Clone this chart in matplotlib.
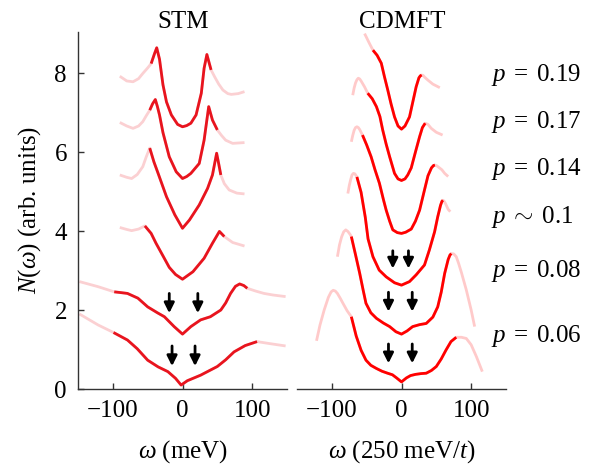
import numpy as np
import matplotlib
matplotlib.use("Agg")
import matplotlib.pyplot as plt

plt.rcParams["font.family"] = ["Liberation Serif", "DejaVu Serif"]
plt.rcParams["mathtext.fontset"] = "custom"
plt.rcParams["mathtext.rm"] = "Liberation Serif"
plt.rcParams["mathtext.it"] = "Liberation Serif:italic"
plt.rcParams["axes.unicode_minus"] = True

# ---------------- STM spectra (offset vertically), omega in meV ----------------
stm_x = [
    [-90, -80, -71, -63, -57, -50, -45, -40, -37, -33, -28, -23, -16, -7, 0, 6, 12, 19.5, 27, 31, 35, 41, 46, 52, 58, 65, 70, 80, 89],
    [-90, -80, -71, -63, -57, -52, -47, -43, -39, -36, -33, -28, -19, -9, 0, 6, 12, 24, 31, 37.6, 43, 50, 56, 62, 72, 89],
    [-90, -80, -73, -65, -57, -52, -47, -41, -35, -23, -11, 0, 10, 24, 36, 43, 49, 52, 55, 60, 67, 78, 89],
    [-90, -80, -73, -63, -54, -45, -38, -28, -19, -10, 0, 15, 31, 43, 53, 60, 72, 89],
    [-148, -121, -98, -88, -79, -64, -50, -36, -26, -12, 0, 12, 26, 40, 55, 62, 69, 76, 82, 88, 93, 105, 117, 130, 148],
    [-148, -121, -99, -79, -65, -50, -35, -21, -10, -2, 7, 26, 50, 62, 74, 90, 107, 125, 148],
]
stm_y = [
    [7.92, 7.80, 7.78, 7.86, 7.99, 8.13, 8.24, 8.50, 8.64, 8.35, 7.70, 7.27, 6.94, 6.70, 6.64, 6.67, 6.73, 6.94, 7.49, 8.12, 8.47, 8.08, 7.91, 7.72, 7.57, 7.48, 7.46, 7.48, 7.53],
    [6.75, 6.66, 6.60, 6.66, 6.77, 6.92, 7.06, 7.22, 7.33, 7.15, 6.94, 6.49, 5.88, 5.50, 5.33, 5.38, 5.46, 5.71, 6.30, 7.15, 6.81, 6.56, 6.42, 6.30, 6.22, 6.24],
    [5.42, 5.36, 5.33, 5.43, 5.63, 5.88, 6.10, 5.75, 5.46, 4.87, 4.41, 4.07, 4.28, 4.66, 5.08, 5.42, 5.97, 5.70, 5.42, 5.20, 5.04, 4.96, 4.94],
    [4.09, 4.04, 4.01, 4.05, 4.13, 3.94, 3.69, 3.37, 3.08, 2.90, 2.78, 2.97, 3.31, 3.69, 3.99, 3.86, 3.71, 3.62],
    [2.72, 2.59, 2.46, 2.44, 2.42, 2.30, 2.08, 1.93, 1.83, 1.58, 1.39, 1.58, 1.75, 1.83, 2.00, 2.18, 2.42, 2.60, 2.66, 2.62, 2.55, 2.48, 2.42, 2.38, 2.34],
    [1.90, 1.62, 1.43, 1.24, 1.02, 0.73, 0.56, 0.44, 0.27, 0.10, 0.21, 0.35, 0.57, 0.74, 0.94, 1.10, 1.20, 1.15, 1.09],
]
stm_dark_lo = [-45, -47, -49.5, -54, -98, -99]
stm_dark_hi = [43, 50, 55, 60, 93, 107]

# STM gap arrows: x positions, tail and tip heights
stm_arrow_x = [[-19, 22], [-15, 18]]
stm_arrow_tail = [2.42, 1.09]
stm_arrow_tip = [1.92, 0.58]

# ---------------- CDMFT spectra, omega in units of 250 meV / t ----------------
dmft_x = [
    [-53, -46, -41, -35, -29, -24.5, -19.7, -15, -10, -5, 0, 5, 11.5, 16, 21, 25, 27, 29, 31, 33, 38, 45, 55],
    [-70, -68, -66, -64, -62, -60, -58, -53, -48.5, -42, -36, -31, -27, -22, -17, -10, -5, 0, 5, 9, 14, 20, 26, 30, 34, 38, 42.7, 50, 59],
    [-72, -70, -68, -66, -64, -62, -60, -56, -50, -43.6, -38, -31.7, -26, -22, -17, -12.5, -6, 0, 6, 14, 20, 26, 33, 38, 43, 46, 48, 50, 53, 58, 62, 67],
    [-77, -75, -73, -71, -69, -67, -64, -58, -52, -48, -41, -32, -22, -10, 0, 11.5, 21, 33, 40, 47.5, 52, 56, 58, 59.5, 61, 63, 67, 70],
    [-92, -89, -86, -83, -80, -77, -74, -72, -66, -60, -55, -51, -44, -36, -26, -17, -8, 0, 8, 16, 26, 35.5, 45, 52, 57, 62, 67, 69.5, 71.5, 75, 78.6, 82, 86, 93, 100, 105],
    [-122, -117, -111, -105, -101, -98, -95, -92, -88, -84, -78, -72, -65, -58, -51, -44, -36, -28, -20, -13, -7, 0, 7, 13, 20, 28, 35.5, 43, 50, 57, 64, 71, 78.6, 86, 93, 100, 107.5, 112, 116],
]
dmft_y = [
    [9.00, 8.75, 8.58, 8.45, 8.25, 7.91, 7.57, 7.22, 6.89, 6.66, 6.58, 6.66, 6.89, 7.25, 7.65, 7.88, 7.93, 7.95, 7.94, 7.90, 7.82, 7.72, 7.63],
    [7.44, 7.62, 7.75, 7.83, 7.87, 7.85, 7.80, 7.65, 7.49, 7.35, 7.15, 6.90, 6.56, 6.20, 5.88, 5.46, 5.32, 5.28, 5.32, 5.42, 5.60, 6.00, 6.39, 6.62, 6.73, 6.70, 6.60, 6.50, 6.43],
    [6.26, 6.42, 6.55, 6.62, 6.64, 6.62, 6.57, 6.43, 6.18, 5.88, 5.55, 5.21, 4.80, 4.53, 4.25, 4.03, 3.96, 3.94, 3.97, 4.05, 4.25, 4.53, 5.04, 5.40, 5.60, 5.66, 5.67, 5.66, 5.62, 5.55, 5.46, 5.38],
    [4.95, 5.15, 5.30, 5.42, 5.46, 5.45, 5.37, 4.98, 4.35, 3.80, 3.35, 3.01, 2.84, 2.69, 2.63, 2.72, 2.89, 3.14, 3.52, 3.98, 4.36, 4.65, 4.75, 4.78, 4.76, 4.70, 4.55, 4.49],
    [3.35, 3.65, 3.85, 3.98, 4.03, 3.99, 3.92, 3.86, 3.40, 2.93, 2.50, 2.17, 1.93, 1.79, 1.67, 1.58, 1.45, 1.39, 1.47, 1.58, 1.63, 1.66, 1.82, 2.08, 2.45, 2.93, 3.28, 3.39, 3.43, 3.42, 3.35, 3.18, 2.95, 2.51, 2.00, 1.58],
    [1.22, 1.62, 2.00, 2.32, 2.46, 2.50, 2.48, 2.42, 2.30, 2.17, 1.98, 1.83, 1.34, 0.98, 0.73, 0.60, 0.52, 0.45, 0.40, 0.36, 0.28, 0.18, 0.28, 0.34, 0.37, 0.39, 0.40, 0.47, 0.57, 0.76, 0.99, 1.20, 1.31, 1.31, 1.28, 1.12, 0.82, 0.62, 0.44],
]
dmft_dark_lo = [-41, -48.5, -56, -64, -72, -72]
dmft_dark_hi = [29, 34, 48, 59.5, 71.5, 78.6]

dmft_arrow_x = [[-12.5, 10], [-18.7, 15.4], [-18.7, 15.4]]
dmft_arrow_tail = [3.50, 2.45, 1.14]
dmft_arrow_tip = [3.05, 1.96, 0.65]

doping_labels = [r"$p\;=\;0.19$", r"$p\;=\;0.17$", r"$p\;=\;0.14$", r"$p\;\sim\;0.1$",
                 r"$p\;=\;0.08$", r"$p\;=\;0.06$"]
label_baseline_px = [81, 128, 175, 223, 277, 342]

W, H = 596, 471
fig = plt.figure(figsize=(W / 100, H / 100), dpi=100)

ax1 = fig.add_axes([78 / W, 1 - 389 / H, 209 / W, 357 / H])
ax2 = fig.add_axes([297 / W, 1 - 389 / H, 209 / W, 357 / H])


def draw_curves(ax, xs, ys, lo, hi, dark, light):
    for x, y, a, b in zip(xs, ys, lo, hi):
        x = np.asarray(x, float)
        y = np.asarray(y, float)
        ax.plot(x, y, color=light, lw=2.0, solid_capstyle="butt", solid_joinstyle="round",
                clip_on=False, zorder=2)
        m = (x >= a - 1e-9) & (x <= b + 1e-9)
        ax.plot(x[m], y[m], color=dark, lw=2.0, solid_capstyle="butt", solid_joinstyle="round",
                clip_on=False, zorder=3)


def draw_arrows(ax, xs, tails, tips):
    for xpair, t0, t1 in zip(xs, tails, tips):
        for xa in xpair:
            ax.annotate("", xy=(xa, t1), xytext=(xa, t0),
                        arrowprops=dict(arrowstyle="-|>", color="black", lw=2.0,
                                        mutation_scale=15, shrinkA=0, shrinkB=0),
                        zorder=4)


draw_curves(ax1, stm_x, stm_y, stm_dark_lo, stm_dark_hi, "#e8141e", "#fbd0d2")
draw_curves(ax2, dmft_x, dmft_y, dmft_dark_lo, dmft_dark_hi, "#ff0000", "#ffcaca")
draw_arrows(ax1, stm_arrow_x, stm_arrow_tail, stm_arrow_tip)
draw_arrows(ax2, dmft_arrow_x, dmft_arrow_tail, dmft_arrow_tip)

for ax in (ax1, ax2):
    ax.set_xlim(-150, 150)
    ax.set_ylim(0, 9.04)
    ax.set_xticks([-100, 0, 100])
    ax.spines["top"].set_visible(False)
    ax.spines["right"].set_visible(False)
    ax.spines["bottom"].set_linewidth(1.0)
    ax.spines["bottom"].set_color("#333333")
    ax.tick_params(axis="x", direction="in", length=4.5, width=1.0, labelsize=18, pad=8, color="#333333")
    ax.patch.set_alpha(0)

ax1.set_yticks([0, 2, 4, 6, 8])
ax1.spines["left"].set_linewidth(1.0)
ax1.spines["left"].set_color("#333333")
ax1.tick_params(axis="y", direction="in", length=4.5, width=1.0, labelsize=18, pad=8, color="#333333")

ax2.spines["left"].set_visible(False)
ax2.set_yticks([])

fs = 18
fig.text(183 / W, 1 - 28 / H, "STM", ha="center", va="baseline", fontsize=fs)
fig.text(402 / W, 1 - 28 / H, "CDMFT", ha="center", va="baseline", fontsize=fs)
fig.text(183 / W, 1 - 458 / H, r"$\omega$ (meV)", ha="center", va="baseline", fontsize=fs)
fig.text(402 / W, 1 - 458 / H, r"$\omega$ (250 meV/$t$)", ha="center", va="baseline", fontsize=fs)
fig.text(30 / W, 1 - 210 / H, r"$N(\omega)$ (arb. units)", ha="center", va="center",
         rotation=90, fontsize=fs)

for lab, yb in zip(doping_labels, label_baseline_px):
    fig.text(491 / W, 1 - yb / H, lab, ha="left", va="baseline", fontsize=fs)

fig.savefig("out.png", dpi=100)
